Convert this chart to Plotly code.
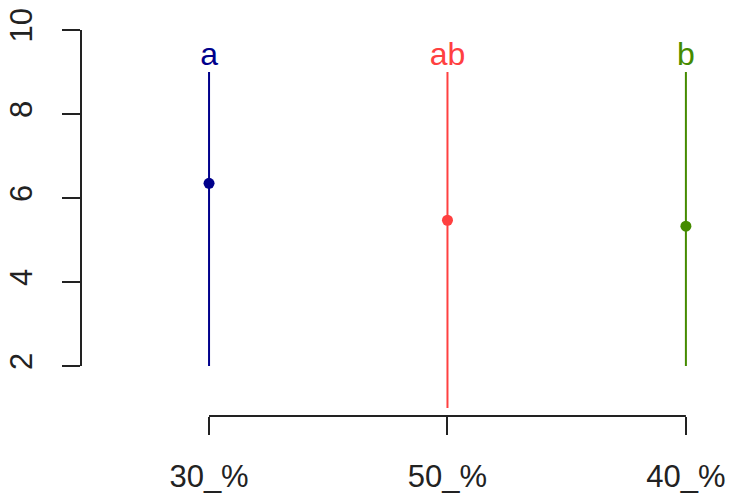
import plotly.graph_objects as go

groups = ["30_%", "50_%", "40_%"]
means = [6.35, 5.47, 5.33]
lower = [2, 1, 2]
upper = [9, 9, 9]
letters = ["a", "ab", "b"]
colors = ["#00008B", "#FF4040", "#458B00"]
y_ticks = [2, 4, 6, 8, 10]

FONT = "Liberation Sans, Arial, sans-serif"
fig = go.Figure()

for g, m, lo, hi, lab, c in zip(groups, means, lower, upper, letters, colors):
    fig.add_trace(go.Scatter(x=[g, g], y=[lo, hi], mode="lines",
                             line=dict(color=c, width=2), showlegend=False, hoverinfo="skip"))
    fig.add_trace(go.Scatter(x=[g], y=[m], mode="markers",
                             marker=dict(color=c, size=11), showlegend=False, cliponaxis=False))
    fig.add_trace(go.Scatter(x=[g], y=[hi + 0.36], mode="text", text=[lab],
                             textposition="middle center",
                             textfont=dict(color=c, size=32, family=FONT),
                             showlegend=False, cliponaxis=False))

# R-style axis lines spanning only the tick range
fig.add_shape(type="line", xref="paper", yref="y", x0=0, x1=0,
              y0=min(y_ticks), y1=max(y_ticks), line=dict(color="#222", width=2))
fig.add_shape(type="line", xref="x", yref="paper", x0=groups[0], x1=groups[-1],
              y0=0, y1=0, line=dict(color="#222", width=2))

fig.update_layout(
    width=730, height=495,
    margin=dict(l=81, r=10, t=20, b=79),
    plot_bgcolor="white", paper_bgcolor="white",
    font=dict(family=FONT, size=31, color="#222"),
    xaxis=dict(type="category", categoryorder="array", categoryarray=groups,
               range=[-0.537, 2.143], showgrid=False, zeroline=False, showline=False,
               automargin=False,
               ticks="outside", ticklen=18, tickwidth=2, tickcolor="#222",
               tickfont=dict(size=31), ticklabelstandoff=15),
    yaxis=dict(range=[2 - 50 / 42, 10 + 10 / 42], tickvals=y_ticks,
               showgrid=False, zeroline=False, showline=False,
               automargin=False,
               ticks="outside", ticklen=18, tickwidth=2, tickcolor="#222",
               tickangle=-90, tickfont=dict(size=31), ticklabelstandoff=18),
)

fig.write_html("out.html")
